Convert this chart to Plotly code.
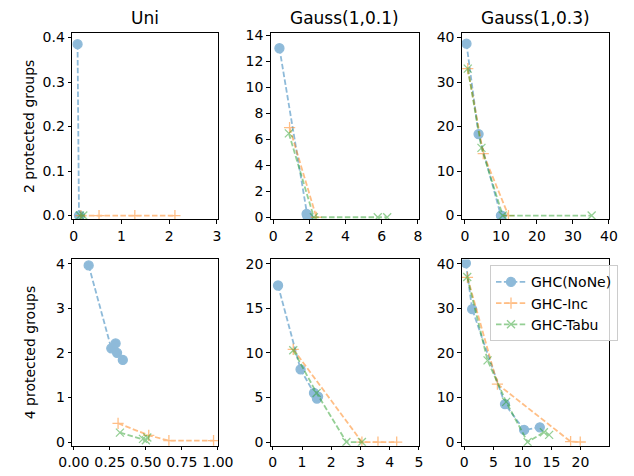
import plotly.graph_objects as go

# ---------------- data ----------------
COL_TITLES = ["Uni", "Gauss(1,0.1)", "Gauss(1,0.3)"]
ROW_LABELS = ["2 protected groups", "4 protected groups"]
SERIES = ["GHC(NoNe)", "GHC-Inc", "GHC-Tabu"]

# 2 protected groups, Uni
U2_NONE_X = [0.08, 0.11, 0.13]
U2_NONE_Y = [0.385, 0.0, 0.0]
U2_INC_X = [0.15, 0.53, 1.28, 2.12]
U2_INC_Y = [0.0, 0.0, 0.0, 0.0]
U2_TABU_X = [0.13, 0.2]
U2_TABU_Y = [0.0, 0.0]

# 2 protected groups, Gauss(1,0.1)
G12_NONE_X = [0.35, 1.85, 1.9, 1.95]
G12_NONE_Y = [13.0, 0.25, 0.05, 0.0]
G12_INC_X = [0.91, 2.39]
G12_INC_Y = [6.9, 0.0]
G12_TABU_X = [0.87, 2.25, 5.78, 6.3]
G12_TABU_Y = [6.45, 0.0, 0.0, 0.0]

# 2 protected groups, Gauss(1,0.3)
G32_NONE_X = [0.44, 3.8, 10.0, 10.2]
G32_NONE_Y = [38.6, 18.3, 0.0, 0.0]
G32_INC_X = [0.8, 5.1, 12.1]
G32_INC_Y = [33.0, 13.9, 0.0]
G32_TABU_X = [0.8, 4.6, 10.5, 35.2]
G32_TABU_Y = [33.0, 15.2, 0.0, 0.0]

# 4 protected groups, Uni
U4_NONE_X = [0.103, 0.26, 0.29, 0.30, 0.34]
U4_NONE_Y = [3.96, 2.1, 2.21, 2.0, 1.84]
U4_INC_X = [0.307, 0.52, 0.66, 0.97]
U4_INC_Y = [0.42, 0.15, 0.03, 0.03]
U4_TABU_X = [0.32, 0.48, 0.5, 0.51]
U4_TABU_Y = [0.21, 0.07, 0.04, 0.1]

# 4 protected groups, Gauss(1,0.1)
G14_NONE_X = [0.18, 0.95, 1.41, 1.51, 1.55]
G14_NONE_Y = [17.55, 8.15, 5.5, 4.87, 5.1]
G14_INC_X = [0.7, 3.05, 3.6, 4.24]
G14_INC_Y = [10.4, 0.0, 0.0, 0.0]
G14_TABU_X = [0.7, 1.5, 2.52, 3.05]
G14_TABU_Y = [10.3, 5.5, 0.0, 0.0]

# 4 protected groups, Gauss(1,0.3)
G34_NONE_X = [0.27, 1.35, 7.0, 10.3, 13.0]
G34_NONE_Y = [40.1, 29.8, 8.5, 2.7, 3.3]
G34_INC_X = [0.54, 5.7, 18.3, 19.96]
G34_INC_Y = [36.9, 13.0, 0.1, 0.0]
G34_TABU_X = [0.5, 4.0, 7.2, 10.9, 13.7, 14.6]
G34_TABU_Y = [37.0, 18.3, 9.0, 0.0, 2.2, 1.6]

PANELS = [
    [(U2_NONE_X, U2_NONE_Y), (U2_INC_X, U2_INC_Y), (U2_TABU_X, U2_TABU_Y)],
    [(G12_NONE_X, G12_NONE_Y), (G12_INC_X, G12_INC_Y), (G12_TABU_X, G12_TABU_Y)],
    [(G32_NONE_X, G32_NONE_Y), (G32_INC_X, G32_INC_Y), (G32_TABU_X, G32_TABU_Y)],
    [(U4_NONE_X, U4_NONE_Y), (U4_INC_X, U4_INC_Y), (U4_TABU_X, U4_TABU_Y)],
    [(G14_NONE_X, G14_NONE_Y), (G14_INC_X, G14_INC_Y), (G14_TABU_X, G14_TABU_Y)],
    [(G34_NONE_X, G34_NONE_Y), (G34_INC_X, G34_INC_Y), (G34_TABU_X, G34_TABU_Y)],
]

# axis settings
X_RANGES = [[-0.034, 3.02], [-0.13, 8.05], [-0.87, 40.0],
            [-0.012, 1.0], [-0.07, 5.0], [-0.44, 24.9]]
Y_RANGES = [[-0.0088, 0.4094], [-0.17, 14.15], [-0.88, 40.94],
            [-0.081, 4.094], [-0.40, 20.47], [-0.81, 40.94]]
X_TICKS = [[0, 1, 2, 3], [0, 2, 4, 6, 8], [0, 10, 20, 30, 40],
           [0, 0.25, 0.5, 0.75, 1.0], [0, 1, 2, 3, 4, 5], [0, 5, 10, 15, 20, 25]]
Y_TICKS = [[0, 0.1, 0.2, 0.3, 0.4], list(range(0, 15, 2)), [0, 10, 20, 30, 40],
           [0, 1, 2, 3, 4], [0, 5, 10, 15, 20], [0, 10, 20, 30, 40]]
X_FMT = ["", "", "", ".2f", "", ""]
Y_FMT = [".1f", "", "", "", "", ""]

# ---------------- style ----------------
COLORS = ["#1f77b4", "#ff7f0e", "#2ca02c"]
SYMBOLS = ["circle", "cross-thin-open", "x-thin-open"]
MSIZES = [9, 8, 8]
FONT = "DejaVu Sans"
W, H = 634, 476
COL_PX = [(61, 214), (269.5, 425), (470, 624.5)]
ROW_PX = [(28, 219), (260, 451)]

fig = go.Figure()
for i in range(6):
    r, c = divmod(i, 3)
    ax = "" if i == 0 else str(i + 1)
    for s in range(3):
        xs, ys = PANELS[i][s]
        fig.add_trace(go.Scatter(
            x=xs, y=ys, mode="lines+markers", name=SERIES[s],
            xaxis="x" + ax, yaxis="y" + ax,
            showlegend=(i == 5), opacity=0.5,
            line=dict(color=COLORS[s], width=1.8, dash="5.5px,2.4px"),
            marker=dict(symbol=SYMBOLS[s], size=MSIZES[s], color=COLORS[s],
                        line=dict(color=COLORS[s], width=1.3)),
        ))
    x0, x1 = COL_PX[c]
    y0, y1 = ROW_PX[r]
    common = dict(showline=True, linecolor="black", linewidth=1, mirror=True,
                  ticks="outside", ticklen=3.5, tickwidth=1, tickcolor="black",
                  showgrid=False, zeroline=False,
                  tickfont=dict(family=FONT, size=14, color="black"))
    fig.layout["xaxis" + ax] = dict(
        domain=[x0 / W, x1 / W], anchor="y" + ax, range=X_RANGES[i],
        tickvals=X_TICKS[i], tickformat=X_FMT[i], **common)
    fig.layout["yaxis" + ax] = dict(
        domain=[1 - y1 / H, 1 - y0 / H], anchor="x" + ax, range=Y_RANGES[i],
        tickvals=Y_TICKS[i], tickformat=Y_FMT[i], **common)

annotations = []
for c in range(3):
    x0, x1 = COL_PX[c]
    annotations.append(dict(
        text=COL_TITLES[c], x=(x0 + x1) / 2 / W, y=1 - 28 / H + 0.008,
        xref="paper", yref="paper", xanchor="center", yanchor="bottom",
        showarrow=False, font=dict(family=FONT, size=17, color="black")))
for r in range(2):
    y0, y1 = ROW_PX[r]
    annotations.append(dict(
        text=ROW_LABELS[r], x=6 / W, y=1 - (y0 + y1) / 2 / H,
        xref="paper", yref="paper", xanchor="left", yanchor="middle",
        textangle=-90, showarrow=False,
        font=dict(family=FONT, size=14, color="black")))

fig.update_layout(
    width=W, height=H, margin=dict(l=0, r=0, t=0, b=0),
    paper_bgcolor="white", plot_bgcolor="white",
    font=dict(family=FONT, size=14, color="black"),
    annotations=annotations,
    legend=dict(x=1.0, y=1 - 266 / H, xanchor="right", yanchor="top",
                bgcolor="rgba(255,255,255,0.8)", bordercolor="#cccccc",
                borderwidth=1, font=dict(family=FONT, size=14, color="black"),
                tracegroupgap=0, itemwidth=30),
)

fig.write_html("out.html")
